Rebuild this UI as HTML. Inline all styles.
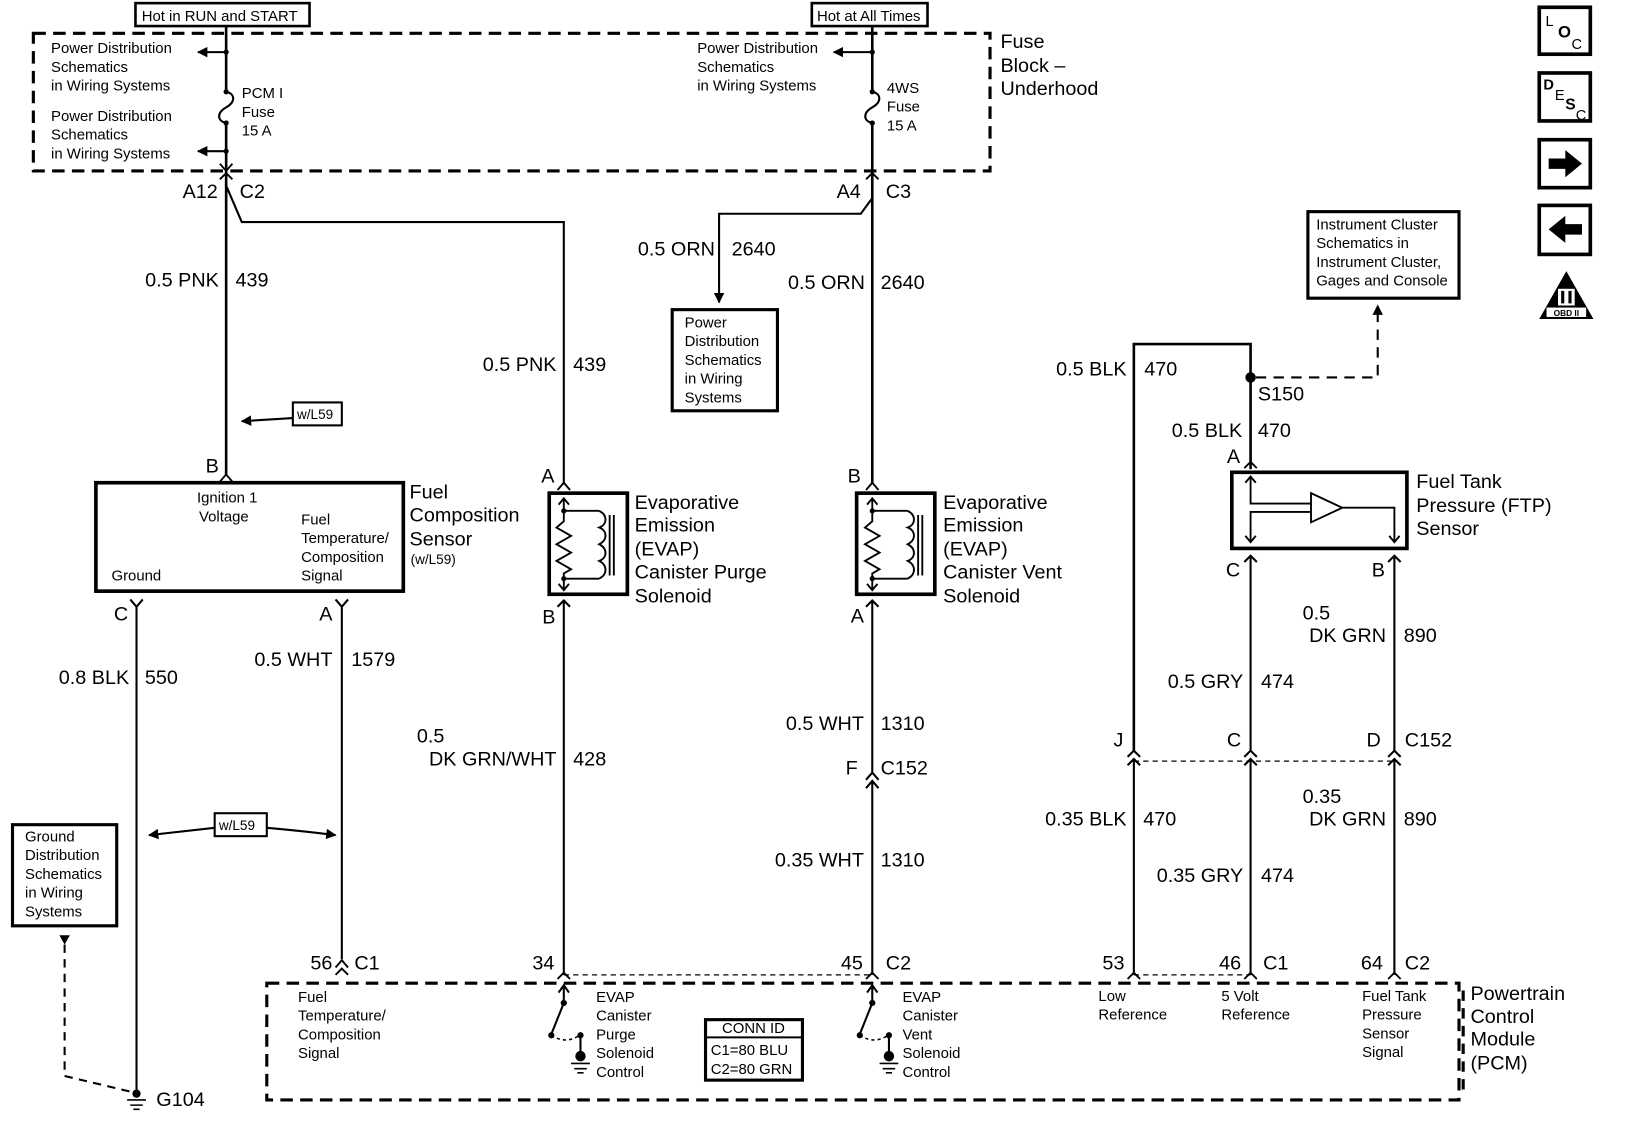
<!DOCTYPE html>
<html><head><meta charset="utf-8"><style>
html,body{margin:0;padding:0;background:#fff;}
svg{display:block;}
text{font-family:"Liberation Sans",sans-serif;fill:#000;}
.s{font-size:14.3px;}
.m{font-size:19px;}
.l{font-size:19px;}
</style></head><body>
<svg width="1632" height="1126" viewBox="0 0 1566 1080" preserveAspectRatio="none" xmlns="http://www.w3.org/2000/svg">
<defs>
<marker id="ah" markerWidth="10" markerHeight="10" refX="9" refY="5" orient="auto" markerUnits="userSpaceOnUse"><path d="M0,0 L10,5 L0,10 z" fill="#000"/></marker>
</defs>
<g fill="none" stroke="#000">
<rect x="32" y="32" width="918" height="132" stroke-width="3" stroke-dasharray="12 7"/>
<rect x="130" y="3" width="167" height="22" stroke-width="2.5"/>
<rect x="779" y="3" width="111" height="22" stroke-width="2.5"/>
<path d="M217 25 V86 M217 120 V455" stroke-width="2.5"/>
<path d="M217 88 C226 90 226 98 217 103 C208 108 208 116 217 118" stroke-width="2"/>
<path d="M217 50 H190" stroke-width="2" marker-end="url(#ah)"/>
<path d="M217 145 H190" stroke-width="2" marker-end="url(#ah)"/>
<path d="M211 157 L217 164 L223 157 M211 172 L217 166 L223 172" stroke-width="1.8"/>
<path d="M217 178 L232 213 H541 V463" stroke-width="2"/>
<path d="M837 25 V86 M837 120 V463" stroke-width="2.5"/>
<path d="M837 88 C846 90 846 98 837 103 C828 108 828 116 837 118" stroke-width="2"/>
<path d="M837 50 H800" stroke-width="2" marker-end="url(#ah)"/>
<path d="M831 172 L837 166 L843 172" stroke-width="1.8"/>
<path d="M837 190 L826 205 H690 V290" stroke-width="2" marker-end="url(#ah)"/>
<rect x="645" y="297" width="101" height="97" stroke-width="3"/>
<rect x="281" y="386" width="47" height="22" stroke-width="2"/>
<path d="M281 401 L232 404" stroke-width="2" marker-end="url(#ah)"/>
<path d="M211 462 L217 455 L223 462" stroke-width="1.8"/>
<rect x="92" y="463" width="295" height="104" stroke-width="3.5"/>
<path d="M125 575 L131 582 L137 575 M131 582 V1045" stroke-width="2"/>
<path d="M322 575 L328 582 L334 575 M328 582 V920" stroke-width="2"/>
<path d="M322 928 L328 921 L334 928" stroke-width="1.8"/>
<rect x="206" y="780" width="50" height="22" stroke-width="2"/>
<path d="M206 794 Q170 798 143 801" stroke-width="2" marker-end="url(#ah)"/>
<path d="M256 794 Q290 797 322 801" stroke-width="2" marker-end="url(#ah)"/>
<rect x="12" y="791" width="100" height="97" stroke-width="3"/>
<path d="M62 906 V1032 L125 1047" stroke-width="2" stroke-dasharray="8 6"/>
<path d="M57 897 H67 L62 906 z" fill="#000" stroke="none"/>
<circle cx="131" cy="1049" r="4" fill="#000" stroke="none"/>
<path d="M122 1055 H140 M125 1060 H137 M128 1064 H134" stroke-width="1.5"/>
<path d="M535 470 L541 463 L547 470" stroke-width="1.8"/>
<rect x="527" y="473" width="75" height="97" stroke-width="3.5"/>
<g stroke-width="1.8">
<path d="M541 478 V490 M541 555 V566"/>
<path d="M536 484 L541 478 L546 484 M536 560 L541 566 L546 560"/>
<path d="M541 490 H575 M541 555 H575"/>
<path d="M541 490 V500 L534 506 L548 514 L534 522 L548 530 L534 538 L548 546 L541 550 V555"/>
<path d="M575 490 C583 494 583 503 575 506 C583 509 583 518 575 522 C583 526 583 535 575 538 C583 542 583 551 575 555"/>
<path d="M585 494 V552 M589 494 V552"/>
</g>
<circle cx="541" cy="490" r="2.5" fill="#000" stroke="none"/>
<circle cx="541" cy="555" r="2.5" fill="#000" stroke="none"/>
<path d="M535 582 L541 576 L547 582 M541 576 V935" stroke-width="2"/>
<path d="M831 470 L837 463 L843 470" stroke-width="1.8"/>
<rect x="822" y="473" width="75" height="97" stroke-width="3.5"/>
<g stroke-width="1.8">
<path d="M837 478 V490 M837 555 V566"/>
<path d="M832 484 L837 478 L842 484 M832 560 L837 566 L842 560"/>
<path d="M837 490 H871 M837 555 H871"/>
<path d="M837 490 V500 L830 506 L844 514 L830 522 L844 530 L830 538 L844 546 L837 550 V555"/>
<path d="M871 490 C879 494 879 503 871 506 C879 509 879 518 871 522 C879 526 879 535 871 538 C879 542 879 551 871 555"/>
<path d="M881 494 V552 M885 494 V552"/>
</g>
<circle cx="837" cy="490" r="2.5" fill="#000" stroke="none"/>
<circle cx="837" cy="555" r="2.5" fill="#000" stroke="none"/>
<path d="M831 582 L837 576 L843 582 M837 576 V741 M831 748 L837 741 L843 748 M831 756 L837 749 L843 756 M837 749 V935" stroke-width="2"/>
<path d="M1088 720 V330 H1200 V450" stroke-width="2.5"/>
<circle cx="1200" cy="362" r="5" fill="#000" stroke="none"/>
<path d="M1205 362 H1322 V300" stroke-width="2" stroke-dasharray="10 7"/>
<path d="M1317 302 L1322 292 L1327 302 z" fill="#000" stroke="none"/>
<rect x="1255" y="203" width="145" height="83" stroke-width="3"/>
<path d="M1194 449 L1200 443 L1206 449" stroke-width="1.8"/>
<rect x="1182" y="453" width="168" height="73" stroke-width="3.5"/>
<g stroke-width="1.8">
<path d="M1200 457 V483 H1258 M1200 520 V491 H1258 M1258 473 V501 L1288 487 z M1288 487 H1338 V520"/>
<path d="M1195 463 L1200 457 L1205 463 M1195 514 L1200 520 L1205 514 M1333 514 L1338 520 L1343 514"/>
</g>
<path d="M1194 539 L1200 533 L1206 539 M1200 533 V720 M1332 539 L1338 533 L1344 539 M1338 533 V720" stroke-width="2"/>
<path d="M1082 726 L1088 720 L1094 726 M1082 734 L1088 728 L1094 734 M1088 728 V935" stroke-width="2"/>
<path d="M1194 726 L1200 720 L1206 726 M1194 734 L1200 728 L1206 734 M1200 728 V935" stroke-width="2"/>
<path d="M1332 726 L1338 720 L1344 726 M1332 734 L1338 728 L1344 734 M1338 728 V935" stroke-width="2"/>
<path d="M1088 730 H1338" stroke-width="1.2" stroke-dasharray="5 4"/>
<path d="M541 935 H837 M1088 935 H1200" stroke-width="1.2" stroke-dasharray="5 4"/>
<g stroke-width="1.8">
<path d="M322 935 L328 929 L334 935"/>
<path d="M535 939 L541 933 L547 939"/>
<path d="M831 939 L837 933 L843 939"/>
<path d="M1082 939 L1088 933 L1094 939"/>
<path d="M1194 939 L1200 933 L1206 939"/>
<path d="M1332 939 L1338 933 L1344 939"/>
</g>
<rect x="256" y="943" width="1144" height="112" stroke-width="3" stroke-dasharray="12 7"/>
<g stroke-width="2">
<path d="M541 962 V946 M536 952 L541 945 L546 952"/>
<path d="M541 962 L529 992"/>
<path d="M529 993 Q543 1002 556 993" stroke-dasharray="3 3" stroke-width="1.5"/>
<path d="M557 993 V1012"/>
<path d="M548 1020 H566 M551 1025 H563 M554 1029 H560" stroke-width="1.5"/>
<path d="M837 962 V946 M832 952 L837 945 L842 952"/>
<path d="M837 962 L825 992"/>
<path d="M825 993 Q839 1002 852 993" stroke-dasharray="3 3" stroke-width="1.5"/>
<path d="M853 993 V1012"/>
<path d="M844 1020 H862 M847 1025 H859 M850 1029 H856" stroke-width="1.5"/>
</g>
<g fill="#000" stroke="none">
<circle cx="541" cy="962" r="3"/><circle cx="529" cy="993" r="3"/><circle cx="557" cy="993" r="3"/><circle cx="557" cy="1013" r="5"/>
<circle cx="837" cy="962" r="3"/><circle cx="825" cy="993" r="3"/><circle cx="853" cy="993" r="3"/><circle cx="853" cy="1013" r="5"/>
<circle cx="217" cy="50" r="2.5"/><circle cx="217" cy="145" r="2.5"/><circle cx="217" cy="88" r="2.5"/><circle cx="217" cy="118" r="2.5"/>
<circle cx="837" cy="50" r="2.5"/><circle cx="837" cy="88" r="2.5"/><circle cx="837" cy="118" r="2.5"/>
</g>
<rect x="677" y="978" width="93" height="58" stroke-width="3"/>
<path d="M677 995 H770" stroke-width="2"/>
<rect x="1477" y="7" width="49" height="45" stroke-width="3.5"/>
<rect x="1477" y="70" width="49" height="46" stroke-width="3.5"/>
<rect x="1477" y="134" width="49" height="46" stroke-width="3.5"/>
<rect x="1477" y="197" width="49" height="47" stroke-width="3.5"/>
</g>
<path d="M1486 152 H1502 V144 L1518 157 L1502 170 V162 H1486 z" fill="#000"/>
<path d="M1518 215 H1502 V207 L1486 220 L1502 233 V225 H1518 z" fill="#000"/>
<path d="M1503 260 L1529 306 H1477 z" fill="#000"/>
<rect x="1495" y="277" width="16" height="16" fill="#fff"/>
<rect x="1498" y="279" width="3" height="12" fill="#000"/><rect x="1505" y="279" width="3" height="12" fill="#000"/>
<rect x="1484" y="295" width="38" height="9" fill="#fff"/>
<text x="1503" y="303" font-size="8" text-anchor="middle" font-weight="bold">OBD II</text>
<text x="1483" y="25" font-size="14">L</text><text x="1495" y="36" font-size="16" font-weight="bold">O</text><text x="1508" y="47" font-size="14">C</text>
<text x="1481" y="86" font-size="14" font-weight="bold">D</text><text x="1492" y="96" font-size="14">E</text><text x="1502" y="105" font-size="15" font-weight="bold">S</text><text x="1512" y="115" font-size="14">C</text>

<text x="136" y="20" class="s">Hot in RUN and START</text>
<text x="784" y="20" class="s">Hot at All Times</text>
<text x="49" y="51" class="s">Power Distribution</text>
<text x="49" y="69" class="s">Schematics</text>
<text x="49" y="87" class="s">in Wiring Systems</text>
<text x="49" y="116" class="s">Power Distribution</text>
<text x="49" y="134" class="s">Schematics</text>
<text x="49" y="152" class="s">in Wiring Systems</text>
<text x="232" y="94" class="s">PCM I</text>
<text x="232" y="112" class="s">Fuse</text>
<text x="232" y="130" class="s">15 A</text>
<text x="669" y="51" class="s">Power Distribution</text>
<text x="669" y="69" class="s">Schematics</text>
<text x="669" y="87" class="s">in Wiring Systems</text>
<text x="851" y="89" class="s">4WS</text>
<text x="851" y="107" class="s">Fuse</text>
<text x="851" y="125" class="s">15 A</text>
<text x="960" y="46" class="m">Fuse</text>
<text x="960" y="69" class="m">Block –</text>
<text x="960" y="91" class="m">Underhood</text>
<text x="209" y="190" class="l" text-anchor="end">A12</text>
<text x="230" y="190" class="l">C2</text>
<text x="826" y="190" class="l" text-anchor="end">A4</text>
<text x="850" y="190" class="l">C3</text>
<text x="210" y="275" class="l" text-anchor="end">0.5 PNK</text><text x="226" y="275" class="l">439</text>
<text x="686" y="245" class="l" text-anchor="end">0.5 ORN</text><text x="702" y="245" class="l">2640</text>
<text x="830" y="277" class="l" text-anchor="end">0.5 ORN</text><text x="845" y="277" class="l">2640</text>
<text x="534" y="356" class="l" text-anchor="end">0.5 PNK</text><text x="550" y="356" class="l">439</text>
<text x="657" y="314" class="s">Power</text>
<text x="657" y="332" class="s">Distribution</text>
<text x="657" y="350" class="s">Schematics</text>
<text x="657" y="368" class="s">in Wiring</text>
<text x="657" y="386" class="s">Systems</text>
<text x="285" y="402" font-size="13">w/L59</text>
<text x="210" y="453" class="l" text-anchor="end">B</text>
<text x="189" y="482" class="s">Ignition 1</text>
<text x="191" y="500" class="s">Voltage</text>
<text x="289" y="503" class="s">Fuel</text>
<text x="289" y="521" class="s">Temperature/</text>
<text x="289" y="539" class="s">Composition</text>
<text x="289" y="557" class="s">Signal</text>
<text x="107" y="557" class="s">Ground</text>
<text x="393" y="478" class="m">Fuel</text>
<text x="393" y="500" class="m">Composition</text>
<text x="393" y="523" class="m">Sensor</text>
<text x="394" y="541" font-size="13">(w/L59)</text>
<text x="123" y="595" class="l" text-anchor="end">C</text>
<text x="319" y="595" class="l" text-anchor="end">A</text>
<text x="319" y="639" class="l" text-anchor="end">0.5 WHT</text><text x="337" y="639" class="l">1579</text>
<text x="124" y="656" class="l" text-anchor="end">0.8 BLK</text><text x="139" y="656" class="l">550</text>
<text x="210" y="796" font-size="13">w/L59</text>
<text x="24" y="807" class="s">Ground</text>
<text x="24" y="825" class="s">Distribution</text>
<text x="24" y="843" class="s">Schematics</text>
<text x="24" y="861" class="s">in Wiring</text>
<text x="24" y="879" class="s">Systems</text>
<text x="150" y="1061" class="l">G104</text>
<text x="532" y="463" class="l" text-anchor="end">A</text>
<text x="533" y="598" class="l" text-anchor="end">B</text>
<text x="826" y="463" class="l" text-anchor="end">B</text>
<text x="829" y="597" class="l" text-anchor="end">A</text>
<text x="609" y="488" class="m">Evaporative</text>
<text x="609" y="510" class="m">Emission</text>
<text x="609" y="533" class="m">(EVAP)</text>
<text x="609" y="555" class="m">Canister Purge</text>
<text x="609" y="578" class="m">Solenoid</text>
<text x="905" y="488" class="m">Evaporative</text>
<text x="905" y="510" class="m">Emission</text>
<text x="905" y="533" class="m">(EVAP)</text>
<text x="905" y="555" class="m">Canister Vent</text>
<text x="905" y="578" class="m">Solenoid</text>
<text x="400" y="712" class="l">0.5</text>
<text x="534" y="734" class="l" text-anchor="end">DK GRN/WHT</text><text x="550" y="734" class="l">428</text>
<text x="829" y="700" class="l" text-anchor="end">0.5 WHT</text><text x="845" y="700" class="l">1310</text>
<text x="823" y="743" class="l" text-anchor="end">F</text><text x="845" y="743" class="l">C152</text>
<text x="829" y="831" class="l" text-anchor="end">0.35 WHT</text><text x="845" y="831" class="l">1310</text>
<text x="1263" y="220" class="s">Instrument Cluster</text>
<text x="1263" y="238" class="s">Schematics in</text>
<text x="1263" y="256" class="s">Instrument Cluster,</text>
<text x="1263" y="274" class="s">Gages and Console</text>
<text x="1081" y="360" class="l" text-anchor="end">0.5 BLK</text><text x="1098" y="360" class="l">470</text>
<text x="1207" y="384" class="l">S150</text>
<text x="1192" y="419" class="l" text-anchor="end">0.5 BLK</text><text x="1207" y="419" class="l">470</text>
<text x="1190" y="444" class="l" text-anchor="end">A</text>
<text x="1359" y="468" class="m">Fuel Tank</text>
<text x="1359" y="491" class="m">Pressure (FTP)</text>
<text x="1359" y="513" class="m">Sensor</text>
<text x="1190" y="553" class="l" text-anchor="end">C</text>
<text x="1329" y="553" class="l" text-anchor="end">B</text>
<text x="1250" y="594" class="l">0.5</text>
<text x="1330" y="616" class="l" text-anchor="end">DK GRN</text><text x="1347" y="616" class="l">890</text>
<text x="1193" y="660" class="l" text-anchor="end">0.5 GRY</text><text x="1210" y="660" class="l">474</text>
<text x="1078" y="716" class="l" text-anchor="end">J</text>
<text x="1191" y="716" class="l" text-anchor="end">C</text>
<text x="1325" y="716" class="l" text-anchor="end">D</text>
<text x="1348" y="716" class="l">C152</text>
<text x="1250" y="770" class="l">0.35</text>
<text x="1081" y="792" class="l" text-anchor="end">0.35 BLK</text><text x="1097" y="792" class="l">470</text>
<text x="1330" y="792" class="l" text-anchor="end">DK GRN</text><text x="1347" y="792" class="l">890</text>
<text x="1193" y="846" class="l" text-anchor="end">0.35 GRY</text><text x="1210" y="846" class="l">474</text>
<text x="319" y="930" class="l" text-anchor="end">56</text><text x="340" y="930" class="l">C1</text>
<text x="532" y="930" class="l" text-anchor="end">34</text>
<text x="828" y="930" class="l" text-anchor="end">45</text><text x="850" y="930" class="l">C2</text>
<text x="1079" y="930" class="l" text-anchor="end">53</text>
<text x="1191" y="930" class="l" text-anchor="end">46</text><text x="1212" y="930" class="l">C1</text>
<text x="1327" y="930" class="l" text-anchor="end">64</text><text x="1348" y="930" class="l">C2</text>
<text x="286" y="961" class="s">Fuel</text>
<text x="286" y="979" class="s">Temperature/</text>
<text x="286" y="997" class="s">Composition</text>
<text x="286" y="1015" class="s">Signal</text>
<text x="572" y="961" class="s">EVAP</text>
<text x="572" y="979" class="s">Canister</text>
<text x="572" y="997" class="s">Purge</text>
<text x="572" y="1015" class="s">Solenoid</text>
<text x="572" y="1033" class="s">Control</text>
<text x="866" y="961" class="s">EVAP</text>
<text x="866" y="979" class="s">Canister</text>
<text x="866" y="997" class="s">Vent</text>
<text x="866" y="1015" class="s">Solenoid</text>
<text x="866" y="1033" class="s">Control</text>
<text x="723" y="991" class="s" text-anchor="middle">CONN ID</text>
<text x="682" y="1012" class="s">C1=80 BLU</text>
<text x="682" y="1030" class="s">C2=80 GRN</text>
<text x="1054" y="960" class="s">Low</text>
<text x="1054" y="978" class="s">Reference</text>
<text x="1172" y="960" class="s">5 Volt</text>
<text x="1172" y="978" class="s">Reference</text>
<text x="1307" y="960" class="s">Fuel Tank</text>
<text x="1307" y="978" class="s">Pressure</text>
<text x="1307" y="996" class="s">Sensor</text>
<text x="1307" y="1014" class="s">Signal</text>
<text x="1411" y="959" class="m">Powertrain</text>
<text x="1411" y="981" class="m">Control</text>
<text x="1411" y="1003" class="m">Module</text>
<text x="1411" y="1026" class="m">(PCM)</text>
<path d="M1404 950 V1050" stroke="#000" stroke-width="3" stroke-dasharray="10 7"/>
</svg>
</body></html>
